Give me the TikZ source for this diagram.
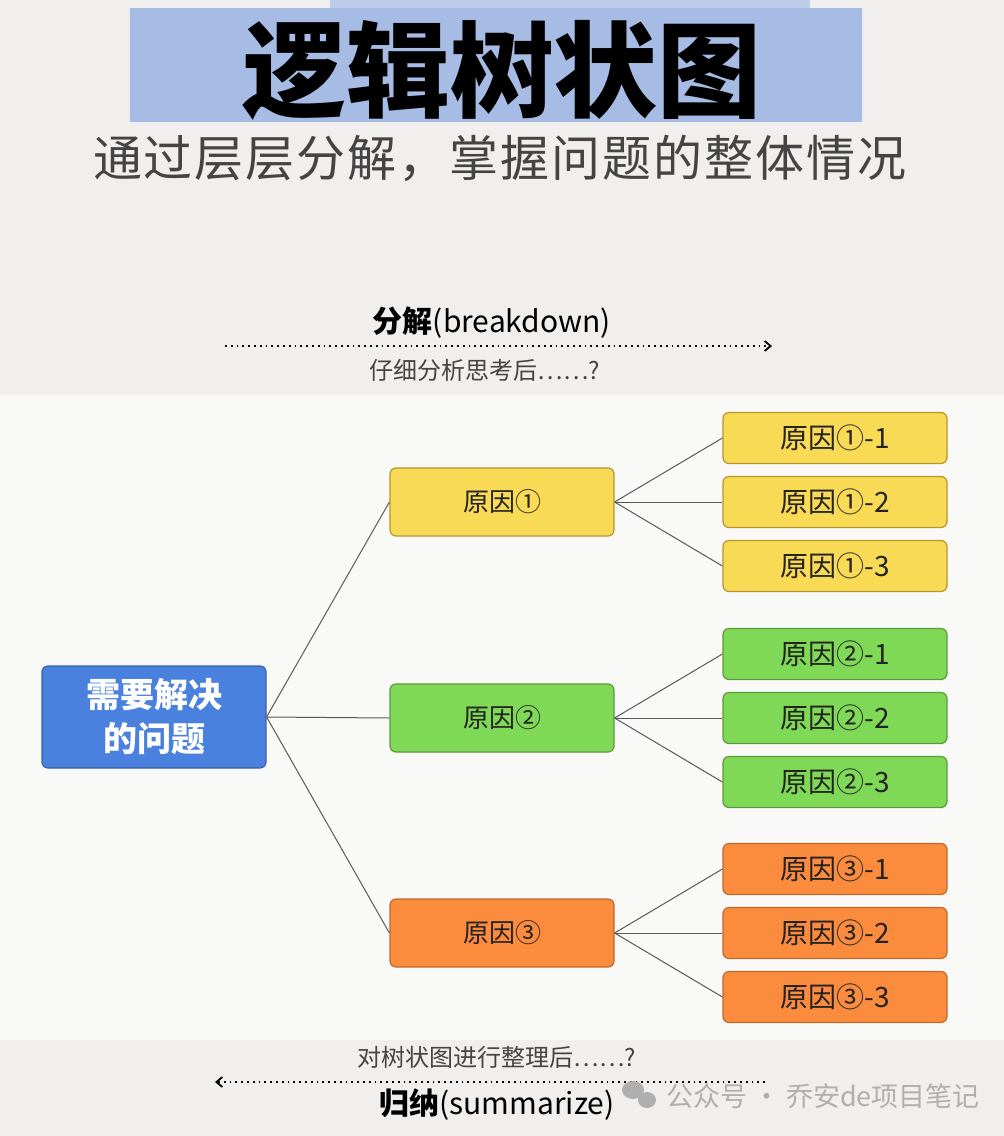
\documentclass[tikz,border=0pt]{standalone}
\usepackage{fontspec}
\setmainfont{Noto Sans CJK SC}
\usetikzlibrary{arrows.meta}
\definecolor{paper}{HTML}{F1EFED}
\definecolor{sheet}{HTML}{F9F9F8}
\definecolor{band}{HTML}{A6BCE4}
\definecolor{bandlight}{HTML}{BCCCEA}
\definecolor{rootfill}{HTML}{4A80DE}
\definecolor{rootline}{HTML}{3A62A8}
\definecolor{yelfill}{HTML}{F9DA55}
\definecolor{yelline}{HTML}{B49630}
\definecolor{grnfill}{HTML}{7FD957}
\definecolor{grnline}{HTML}{5C9A3C}
\definecolor{orgfill}{HTML}{FB8C3E}
\definecolor{orgline}{HTML}{BE6A2C}
\definecolor{ink}{HTML}{222222}
\definecolor{greytext}{HTML}{444444}
\definecolor{wmgrey}{HTML}{AFAFAF}

\tikzset{
  box/.style={draw, rounded corners=3pt, line width=0.6pt, text=ink},
  rootbox/.style={box, fill=rootfill, draw=rootline, minimum width=112pt, minimum height=51pt,
    text=white, align=center, font=\fontsize{17}{22}\selectfont\bfseries},
  midbox/.style={box, minimum width=112pt, minimum height=34pt, font=\fontsize{13}{15}\selectfont},
  leafbox/.style={box, minimum width=112pt, minimum height=25.5pt, font=\fontsize{14}{16}\selectfont},
  edge/.style={draw=black!65, line width=0.5pt},
  flow/.style={dotted, line width=0.9pt, -{Straight Barb[length=3pt,width=5pt]}},
}
\newcommand{\gapk}{\kern1pt}

\begin{document}
\begin{tikzpicture}[x=0.5pt,y=-0.5pt]
  \useasboundingbox (0,0) rectangle (1004,1136);
  % paper and the white sheet behind the tree
  \fill[paper] (0,0) rectangle (1004,1136);
  \fill[sheet] (0,395) rectangle (1004,1040);
  \fill[bandlight] (330,0) rectangle (810,20);
  \fill[band] (130,8) rectangle (862,122);

  % heading
  \node[font=\fontsize{52}{56}\selectfont\bfseries] (title) at (502,70) {逻辑树状图};
  \node[text=greytext, font=\fontsize{24.5}{28}\selectfont] (subtitle) at (500,158)
    {通\gapk 过\gapk 层\gapk 层\gapk 分\gapk 解\gapk ，\gapk 掌\gapk 握\gapk 问\gapk 题\gapk 的\gapk 整\gapk 体\gapk 情\gapk 况};

  % breakdown arrow
  \node[font=\fontsize{15}{18}\selectfont] (down) at (492,323) {\textbf{分解}(breakdown)};
  \coordinate (dstart) at (225,346);
  \coordinate (dend) at (772,346);
  \draw[flow] (dstart) -- (dend);
  \node[text=greytext, font=\fontsize{12}{14}\selectfont] (downq) at (485,370) {仔细分析思考后……?};

  % tree
  \node[rootbox] (root) at (154,717) {需要解决\\的问题};
  \foreach \i/\yy/\col/\n in {1/502/yel/①,2/718/grn/②,3/933/org/③} {
    \node[midbox, fill=\col fill, draw=\col line] (c\i) at (502,\yy) {原因\n};
    \draw[edge] (root.east) -- (c\i.west);
    \foreach \j in {1,2,3} {
      \node[leafbox, fill=\col fill, draw=\col line] (c\i-\j) at (835,{\yy+(\j-2)*64}) {原因\n-\j};
      \draw[edge] (c\i.east) -- (c\i-\j.west);
    }
  }

  % summarize arrow
  \node[text=greytext, font=\fontsize{12}{14}\selectfont] (upq) at (497,1057) {对树状图进行整理后……?};
  \coordinate (ustart) at (765,1082);
  \coordinate (uend) at (215,1082);
  \draw[flow] (ustart) -- (uend);
  \node[font=\fontsize{15}{18}\selectfont] (up) at (497,1105) {\textbf{归纳}(summarize)};

  % watermark
  \fill[wmgrey] (633,1090) ellipse (11 and 9);
  \fill[wmgrey] (647,1100) ellipse (9 and 8);
  \node[text=wmgrey, anchor=west, font=\fontsize{13.5}{15}\selectfont] (wm) at (659,1096) {公众号 · 乔安de项目笔记};
\end{tikzpicture}
\end{document}
